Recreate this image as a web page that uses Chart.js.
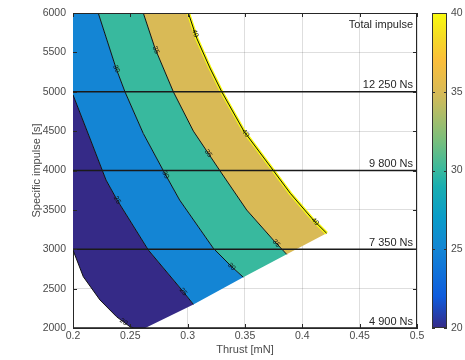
<!DOCTYPE html>
<html>
<head>
<meta charset="utf-8">
<script src="https://cdn.jsdelivr.net/npm/chart.js@4.4.0/dist/chart.umd.min.js"></script>
<style>
  body { margin: 0; background: #fff; }
  #wrap { width: 465px; height: 360px; }
</style>
</head>
<body>
<div id="wrap"><canvas id="chart" width="465" height="360"></canvas></div>
<script>
// ticks
const xTicks = [0.2, 0.25, 0.3, 0.35, 0.4, 0.45, 0.5];
const xTickLabels = ['0.2', '0.25', '0.3', '0.35', '0.4', '0.45', '0.5'];
const yTicks = [2000, 2500, 3000, 3500, 4000, 4500, 5000, 5500, 6000];
const cTicks = [20, 25, 30, 35, 40];

// contour lines, [thrust mN, specific impulse s]
const c20 = [[0.2, 2990], [0.209, 2651], [0.2235, 2356], [0.238, 2143], [0.2497, 2016], [0.253, 2000]];
const c25 = [[0.2, 4960], [0.215, 4400], [0.2288, 3879], [0.2385, 3625], [0.2657, 2990], [0.2962, 2460], [0.305, 2300]];
const c30 = [[0.222, 6000], [0.2375, 5300], [0.2453, 5000], [0.2613, 4470], [0.280, 3965], [0.293, 3625], [0.3224, 3012], [0.3384, 2778], [0.3485, 2645]];
const c35 = [[0.2613, 6000], [0.2715, 5552], [0.2875, 5000], [0.305, 4500], [0.328, 4000], [0.3515, 3498], [0.3747, 3117], [0.3864, 2935]];
const c40 = [[0.3006, 6000], [0.3079, 5679], [0.3195, 5300], [0.3297, 5000], [0.349, 4500], [0.3747, 4000], [0.3895, 3710], [0.4096, 3371], [0.4212, 3203]];
const cutCorner = [0.263, 2000]; // where the lower cut-off edge meets the 2000 s line

// inline contour labels: level and Isp where it sits on its line
const labelLevels = [20, 25, 25, 30, 30, 30, 35, 35, 35, 40, 40, 40];
const labelIsp = [2076, 3625, 2460, 5290, 3946, 2778, 5530, 4218, 3075, 5742, 4472, 3350];

// total impulse lines
const impulseIsp = [5000, 4000, 3000, 2000];
const impulseLabels = ['12 250 Ns', '9 800 Ns', '7 350 Ns', '4 900 Ns'];
const impulseTitle = 'Total impulse';

const contours = { 20: c20, 25: c25, 30: c30, 35: c35, 40: c40 };

const parula = [
  [0.00, '#352a87'], [0.10, '#0f5cdd'], [0.20, '#1178d8'], [0.25, '#1485d4'],
  [0.35, '#0a9cc8'], [0.45, '#1aaeb0'], [0.50, '#38b99e'], [0.60, '#7cbf7b'],
  [0.70, '#bbbc63'], [0.75, '#d9ba56'], [0.85, '#fbbe3a'], [0.92, '#f5d926'], [1.00, '#f9fb0e']
];
const colorAt = f => parula.find(s => Math.abs(s[0] - f) < 1e-6)[1];

const pts = arr => arr.map(p => ({ x: p[0], y: p[1] }));
const rev = arr => arr.slice().reverse();

// filled bands between neighbouring contours
const bands = [
  { lvl: 20, poly: [...c20, cutCorner, ...rev(c25)] },
  { lvl: 25, poly: [[0.2, 6000], ...c30, ...rev(c25)] },
  { lvl: 30, poly: [...c35, ...rev(c30)] },
  { lvl: 35, poly: [...c40, ...rev(c35)] }
];

const datasets = [];
bands.forEach(b => {
  datasets.push({
    data: pts([...b.poly, b.poly[0]]),
    showLine: true, fill: 'shape', borderWidth: 0, pointRadius: 0,
    backgroundColor: colorAt((b.lvl - 20) / 20), order: 10
  });
});
datasets.push({
  data: pts(c40), showLine: true, fill: false, pointRadius: 0,
  borderColor: '#f9fb0e', borderWidth: 3.5, order: 5
});
[c20, c25, c30, c35, c40].forEach(c => {
  datasets.push({
    data: pts(c), showLine: true, fill: false, pointRadius: 0,
    borderColor: '#111', borderWidth: 1, order: 3
  });
});
impulseIsp.forEach(v => {
  datasets.push({
    data: [{ x: xTicks[0], y: v }, { x: xTicks[xTicks.length - 1], y: v }],
    showLine: true, fill: false, pointRadius: 0,
    borderColor: '#1a1a1a', borderWidth: 1.5, order: 1
  });
});

const FONT = "'Liberation Sans', Arial, sans-serif";
const textCol = '#4a4a4a';

const extras = {
  id: 'extras',
  afterDatasetsDraw(chart) {
    const { ctx, scales: { x, y } } = chart;
    // contour labels
    ctx.save();
    ctx.font = '7px ' + FONT;
    ctx.fillStyle = '#111';
    ctx.textAlign = 'center';
    ctx.textBaseline = 'middle';
    labelLevels.forEach((lvl, i) => {
      const c = contours[lvl];
      const v = labelIsp[i];
      for (let k = 0; k < c.length - 1; k++) {
        const a = c[k], b = c[k + 1];
        if ((v <= a[1] && v >= b[1]) || (v >= a[1] && v <= b[1])) {
          const t = (v - a[1]) / (b[1] - a[1]);
          const T = a[0] + t * (b[0] - a[0]);
          const px = x.getPixelForValue(T), py = y.getPixelForValue(v);
          let ang = Math.atan2(y.getPixelForValue(b[1]) - y.getPixelForValue(a[1]),
                               x.getPixelForValue(b[0]) - x.getPixelForValue(a[0]));
          if (ang > Math.PI / 2) ang -= Math.PI;
          if (ang < -Math.PI / 2) ang += Math.PI;
          ctx.save();
          ctx.translate(px, py);
          ctx.rotate(ang);
          ctx.fillText(String(lvl), 0, 0);
          ctx.restore();
          break;
        }
      }
    });
    ctx.restore();
  },
  afterDraw(chart) {
    const { ctx, chartArea: a, scales: { x, y, cbar } } = chart;
    ctx.save();
    // box top and right, inward ticks
    ctx.strokeStyle = '#262626';
    ctx.lineWidth = 1;
    ctx.beginPath();
    ctx.moveTo(a.left, a.top + 0.5); ctx.lineTo(a.right, a.top + 0.5);
    ctx.moveTo(a.right - 0.5, a.top); ctx.lineTo(a.right - 0.5, a.bottom);
    xTicks.forEach(v => {
      const px = Math.round(x.getPixelForValue(v)) + 0.5;
      ctx.moveTo(px, a.top); ctx.lineTo(px, a.top + 4);
      ctx.moveTo(px, a.bottom); ctx.lineTo(px, a.bottom - 4);
    });
    yTicks.forEach(v => {
      const py = Math.round(y.getPixelForValue(v)) + 0.5;
      ctx.moveTo(a.left, py); ctx.lineTo(a.left + 4, py);
      ctx.moveTo(a.right, py); ctx.lineTo(a.right - 4, py);
    });
    ctx.stroke();

    // impulse labels
    ctx.fillStyle = '#262626';
    ctx.font = '11px ' + FONT;
    ctx.textAlign = 'right';
    ctx.textBaseline = 'top';
    ctx.fillText(impulseTitle, a.right - 4, a.top + 6);
    ctx.textBaseline = 'bottom';
    impulseIsp.forEach((v, i) => {
      ctx.fillText(impulseLabels[i], a.right - 4, y.getPixelForValue(v) - 1);
    });

    // colorbar
    const bx = cbar.left + 15, bw = 15;
    const top = cbar.getPixelForValue(cTicks[cTicks.length - 1]);
    const bot = cbar.getPixelForValue(cTicks[0]);
    const g = ctx.createLinearGradient(0, bot, 0, top);
    parula.forEach(s => g.addColorStop(s[0], s[1]));
    ctx.fillStyle = g;
    ctx.fillRect(bx, top, bw, bot - top);
    ctx.strokeStyle = '#333';
    ctx.strokeRect(bx + 0.5, top + 0.5, bw - 1, bot - top - 1);
    ctx.beginPath();
    cTicks.forEach(v => {
      const py = Math.round(cbar.getPixelForValue(v)) + 0.5;
      ctx.moveTo(bx + bw, py); ctx.lineTo(bx + bw - 3, py);
      ctx.moveTo(bx, py); ctx.lineTo(bx + 3, py);
    });
    ctx.stroke();
    ctx.restore();
  }
};

new Chart(document.getElementById('chart'), {
  type: 'scatter',
  data: { datasets },
  options: {
    responsive: false,
    animation: false,
    devicePixelRatio: 1,
    layout: { padding: { left: 0, right: 0, top: 13, bottom: 0 } },
    plugins: { legend: { display: false }, tooltip: { enabled: false } },
    elements: { line: { tension: 0 } },
    scales: {
      x: {
        type: 'linear', min: 0.2, max: 0.5, z: 1,
        afterBuildTicks: s => { s.ticks = xTicks.map(v => ({ value: v })); },
        afterFit: s => { s.height = 32; },
        ticks: { callback: (v, i) => xTickLabels[i], color: textCol, padding: 2, maxRotation: 0,
                 font: { family: FONT, size: 10.5 } },
        grid: { color: 'rgba(0,0,0,0.13)', drawTicks: false },
        border: { color: '#262626', width: 1 },
        title: { display: true, text: 'Thrust [mN]', color: textCol, padding: { top: 0, bottom: 3 },
                 font: { family: FONT, size: 11 } }
      },
      y: {
        type: 'linear', min: 2000, max: 6000, z: 1,
        afterBuildTicks: s => { s.ticks = yTicks.map(v => ({ value: v })); },
        afterFit: s => { s.width = 73; s.paddingTop = 0; s.paddingBottom = 0; },
        ticks: { callback: v => String(v), color: textCol, padding: 7,
                 font: { family: FONT, size: 10.5 } },
        grid: { color: 'rgba(0,0,0,0.13)', drawTicks: false },
        border: { color: '#262626', width: 1 },
        title: { display: true, text: 'Specific impulse [s]', color: textCol, padding: { top: 30, bottom: 0 },
                 font: { family: FONT, size: 11 } }
      },
      cbar: {
        type: 'linear', axis: 'y', position: 'right', min: 20, max: 40,
        afterBuildTicks: s => { s.ticks = cTicks.map(v => ({ value: v })); },
        afterFit: s => { s.width = 48; s.paddingTop = 0; s.paddingBottom = 0; },
        ticks: { callback: v => String(v), color: textCol, padding: 34,
                 font: { family: FONT, size: 10.5 } },
        grid: { display: false, drawTicks: false },
        border: { display: false }
      }
    }
  },
  plugins: [extras]
});
</script>
</body>
</html>
